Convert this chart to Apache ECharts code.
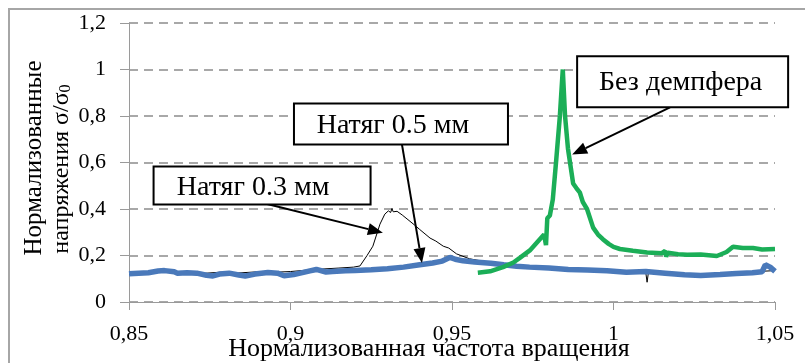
<!DOCTYPE html>
<html><head><meta charset="utf-8">
<script src="https://cdn.jsdelivr.net/npm/echarts@6/dist/echarts.min.js"></script>
<style>html,body{margin:0;padding:0;background:#fff}#c{width:805px;height:363px}</style>
</head><body><div id="c"></div>
<script>
// ---- tick labels ----
const xTickLabels = ['0,85','0,9','0,95','1','1,05'];
const yTickLabels = ['0','0,2','0,4','0,6','0,8','1','1,2'];

// ---- series: Натяг 0.5 мм (blue) ----
const blueX = [0.850,0.853,0.856,0.859,0.861,0.864,0.865,0.868,0.871,0.874,0.876,0.878,0.881,0.884,0.886,0.889,0.893,0.896,0.898,0.901,0.903,0.906,0.908,0.911,0.913,0.917,0.920,0.925,0.930,0.935,0.940,0.944,0.947,0.9494,0.951,0.9534,0.957,0.962,0.966,0.970,0.974,0.980,0.986,0.992,0.998,1.004,1.010,1.016,1.022,1.027,1.033,1.038,1.043,1.046,1.047,1.0485,1.050];
const blueY = [0.121,0.124,0.126,0.133,0.135,0.130,0.124,0.126,0.124,0.115,0.112,0.120,0.124,0.116,0.112,0.120,0.127,0.124,0.113,0.118,0.124,0.134,0.140,0.129,0.131,0.134,0.136,0.139,0.143,0.150,0.160,0.168,0.176,0.192,0.184,0.177,0.172,0.167,0.160,0.154,0.150,0.146,0.140,0.138,0.134,0.128,0.131,0.124,0.117,0.114,0.118,0.123,0.126,0.130,0.160,0.150,0.132];

// ---- series: Натяг 0.3 мм (thin black) ----
const blackX = [0.850,0.855,0.860,0.862,0.866,0.872,0.878,0.884,0.890,0.895,0.900,0.905,0.910,0.915,0.9195,0.9215,0.9237,0.9255,0.9277,0.9292,0.9303,0.9310,0.9314,0.9318,0.9330,0.9346,0.9370,0.9385,0.9400,0.9432,0.9450,0.9473,0.9490,0.9514,0.9554,0.9616,0.9656,0.970,0.980,0.990,1.000,1.010,1.0104,1.0108,1.020,1.030,1.040,1.050];
const blackY = [0.118,0.122,0.128,0.136,0.126,0.122,0.128,0.125,0.130,0.128,0.131,0.137,0.142,0.146,0.150,0.155,0.200,0.240,0.335,0.378,0.392,0.385,0.402,0.388,0.390,0.374,0.347,0.330,0.312,0.275,0.262,0.240,0.232,0.207,0.186,0.170,0.160,0.152,0.142,0.136,0.131,0.126,0.085,0.126,0.120,0.122,0.128,0.135];

// ---- series: Без демпфера (green) ----
const greenX = [0.9580,0.9618,0.9658,0.9690,0.9710,0.9741,0.9785,0.9791,0.9795,0.9803,0.9812,0.9822,0.9834,0.9843,0.9850,0.9859,0.9875,0.9885,0.9896,0.9905,0.9918,0.9937,0.9952,0.9967,0.9985,1.0000,1.0020,1.0060,1.0104,1.0150,1.0160,1.0163,1.0168,1.0200,1.0228,1.0270,1.0320,1.0350,1.0370,1.0400,1.0432,1.0460,1.0500];
const greenY = [0.126,0.132,0.150,0.170,0.190,0.222,0.290,0.245,0.360,0.372,0.440,0.600,0.800,1.000,0.800,0.660,0.510,0.490,0.470,0.430,0.400,0.320,0.290,0.270,0.250,0.237,0.228,0.220,0.213,0.210,0.220,0.195,0.212,0.205,0.203,0.204,0.198,0.215,0.238,0.232,0.232,0.226,0.228];

// ---- annotation texts and anchors (data coordinates) ----
const annoText = ['Натяг 0.3 мм','Натяг 0.5 мм','Без демпфера'];
const annoCenterX = [0.8912,0.9342,1.0214];
const annoCenterY = [0.5007,0.766,0.947];
const arrowFromX = [0.8912,0.9345,1.0175];
const arrowFromY = [0.427,0.678,0.837];
const arrowToX = [0.9286,0.9407,0.9872];
const arrowToY = [0.298,0.168,0.634];

const FONT = '"Liberation Serif","Times New Roman",serif';
const boxW = [217,214,211], boxH = [38,41,51];

function pairs(xs, ys){ return xs.map((x,i)=>[x, ys[i]]); }

const chart = echarts.init(document.getElementById('c'), null, {renderer:'canvas'});
const option = {
  animation:false,
  grid:{left:129,right:30,top:23,bottom:61,containLabel:false},
  xAxis:{type:'value',min:0.85,max:1.05,interval:0.05,
    axisLine:{show:true,onZero:false,lineStyle:{color:'#9a9a9a',width:1}},
    axisTick:{show:true,length:8,lineStyle:{color:'#9a9a9a'}},
    splitLine:{show:false},
    axisLabel:{margin:21,color:'#000',fontFamily:FONT,fontSize:22,
      formatter:v=>xTickLabels[Math.round((v-0.85)/0.05)]}},
  yAxis:{type:'value',min:0,max:1.2,interval:0.2,
    axisLine:{show:true,lineStyle:{color:'#9a9a9a',width:1}},
    axisTick:{show:true,length:9,lineStyle:{color:'#9a9a9a'}},
    splitLine:{show:true,lineStyle:{color:'#8c8c8c',width:1.5,type:[9,6]}},
    axisLabel:{margin:23,color:'#000',fontFamily:FONT,fontSize:22,
      formatter:v=>yTickLabels[Math.round(v/0.2)]}},
  series:[
    {name:'Натяг 0.3 мм',type:'line',data:pairs(blackX,blackY),showSymbol:false,
      lineStyle:{color:'#000',width:1},z:2},
    {name:'Натяг 0.5 мм',type:'line',data:pairs(blueX,blueY),showSymbol:false,
      lineStyle:{color:'#4a79ba',width:5.5},z:3},
    {name:'Без демпфера',type:'line',data:pairs(greenX,greenY),showSymbol:false,
      lineStyle:{color:'#1bae57',width:4.5},z:4}
  ]
};
chart.setOption(option);

const els = [];
els.push({type:'rect',shape:{x:9,y:9,width:1000,height:1000},style:{fill:'none',stroke:'#a6a6a6',lineWidth:2},silent:true});
// axis titles
els.push({type:'text',x:429,y:349,style:{text:'Нормализованная частота вращения',font:'26px '+FONT,fill:'#000',align:'center',verticalAlign:'middle'}});
els.push({type:'text',x:34,y:158,rotation:Math.PI/2,style:{text:'Нормализованные',font:'25px '+FONT,fill:'#000',align:'center',verticalAlign:'middle'}});
els.push({type:'text',x:62,y:169,rotation:Math.PI/2,style:{text:'{a|напряжения σ/σ}{s|0}',fill:'#000',align:'center',verticalAlign:'middle',
  rich:{a:{fontSize:24,fontFamily:FONT},s:{fontSize:16,fontFamily:FONT,verticalAlign:'bottom'}}}});
for(let i=0;i<annoText.length;i++){
  const c = chart.convertToPixel({gridIndex:0},[annoCenterX[i],annoCenterY[i]]);
  const a = chart.convertToPixel({gridIndex:0},[arrowFromX[i],arrowFromY[i]]);
  const t = chart.convertToPixel({gridIndex:0},[arrowToX[i],arrowToY[i]]);
  const dx=t[0]-a[0], dy=t[1]-a[1], L=Math.hypot(dx,dy), ux=dx/L, uy=dy/L;
  const hl=15, hw=6;
  const bx=t[0]-ux*hl, by=t[1]-uy*hl;
  els.push({type:'line',shape:{x1:a[0],y1:a[1],x2:bx,y2:by},style:{stroke:'#000',lineWidth:2},z:10});
  els.push({type:'polygon',shape:{points:[[t[0],t[1]],[bx-uy*hw,by+ux*hw],[bx+uy*hw,by-ux*hw]]},style:{fill:'#000'},z:10});
  els.push({type:'rect',shape:{x:c[0]-boxW[i]/2,y:c[1]-boxH[i]/2,width:boxW[i],height:boxH[i]},style:{fill:'#fff',stroke:'#000',lineWidth:2},z:11});
  els.push({type:'text',x:c[0]-(i===0?9:i===1?8:2),y:c[1]+(i===0?2:i===1?2:1),style:{text:annoText[i],font:'28px '+FONT,fill:'#000',align:'center',verticalAlign:'middle'},z:12});
}
chart.setOption({graphic:els});
</script></body></html>
